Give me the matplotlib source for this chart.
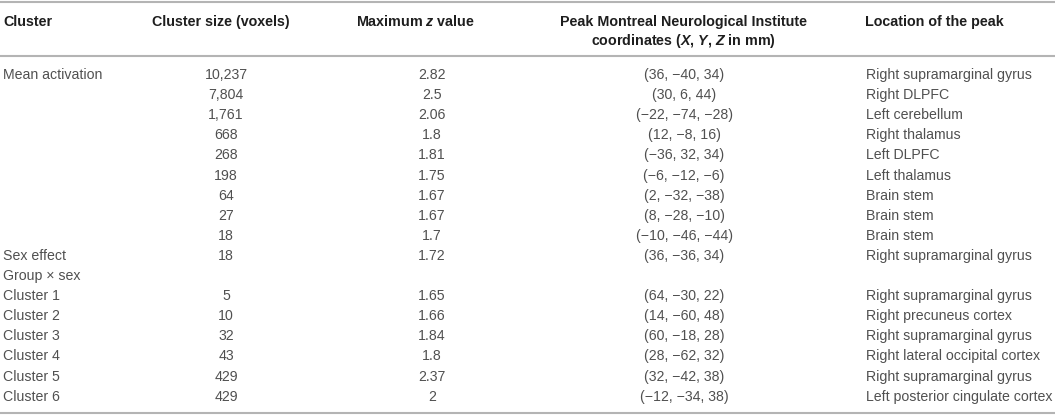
import matplotlib
matplotlib.use("Agg")
import matplotlib.pyplot as plt

plt.rcParams['font.family'] = ['Liberation Sans', 'DejaVu Sans']
plt.rcParams['mathtext.fontset'] = 'custom'
plt.rcParams['mathtext.rm'] = 'Liberation Sans'
plt.rcParams['mathtext.it'] = 'Liberation Sans:italic'
plt.rcParams['mathtext.bf'] = 'Liberation Sans:bold'
plt.rcParams['mathtext.bfit'] = 'Liberation Sans:italic:bold'

headers_line1 = ["Cluster", "Cluster size (voxels)", r"Maximum $\mathbfit{z}$ value",
                 "Peak Montreal Neurological Institute", "Location of the peak"]
headers_line2 = ["", "", "",
                 r"coordinates ($\mathbfit{X}$, $\mathbfit{Y}$, $\mathbfit{Z}$ in mm)", ""]

clusters = ["Mean activation", "", "", "", "", "", "", "", "",
            "Sex effect", "Group × sex", "Cluster 1", "Cluster 2", "Cluster 3",
            "Cluster 4", "Cluster 5", "Cluster 6"]
sizes = ["10,237", "7,804", "1,761", "668", "268", "198", "64", "27", "18",
         "18", "", "5", "10", "32", "43", "429", "429"]
zvals = ["2.82", "2.5", "2.06", "1.8", "1.81", "1.75", "1.67", "1.67", "1.7",
         "1.72", "", "1.65", "1.66", "1.84", "1.8", "2.37", "2"]
coords = ["(36, −40, 34)", "(30, 6, 44)", "(−22, −74, −28)", "(12, −8, 16)",
          "(−36, 32, 34)", "(−6, −12, −6)", "(2, −32, −38)", "(8, −28, −10)",
          "(−10, −46, −44)", "(36, −36, 34)", "", "(64, −30, 22)", "(14, −60, 48)",
          "(60, −18, 28)", "(28, −62, 32)", "(32, −42, 38)", "(−12, −34, 38)"]
locations = ["Right supramarginal gyrus", "Right DLPFC", "Left cerebellum",
             "Right thalamus", "Left DLPFC", "Left thalamus", "Brain stem",
             "Brain stem", "Brain stem", "Right supramarginal gyrus", "",
             "Right supramarginal gyrus", "Right precuneus cortex",
             "Right supramarginal gyrus", "Right lateral occipital cortex",
             "Right supramarginal gyrus", "Left posterior cingulate cortex"]

W, H = 1055, 415
fig = plt.figure(figsize=(W / 100, H / 100), dpi=100)
ax = fig.add_axes([0, 0, 1, 1])
ax.set_xlim(0, W)
ax.set_ylim(H, 0)
ax.axis('off')

line_c = '#b4b4b4'
head_c = '#1e1e1e'
body_c = '#505050'
fs_h = 10.3
fs_b = 10.2

for y in (2, 56, 412.5):
    ax.plot([0, W], [y, y], color=line_c, lw=1.5, solid_capstyle='butt')

hx = [3, 221, 415, 683, 865]
ha_h = ['left', 'center', 'center', 'center', 'left']
for x, t1, t2, ha in zip(hx, headers_line1, headers_line2, ha_h):
    ax.text(x, 26, t1, ha=ha, va='baseline', fontsize=fs_h, fontweight='bold',
            color=head_c)
    if t2:
        ax.text(x, 45, t2, ha=ha, va='baseline', fontsize=fs_h, fontweight='bold',
                color=head_c)

cx = [3, 226, 432, 684, 866]
ca = ['left', 'center', 'center', 'center', 'left']
y0, dy = 75, 20.1
for i in range(len(clusters)):
    y = y0 + i * dy
    for x, ha, col in zip(cx, ca, (clusters, sizes, zvals, coords, locations)):
        if col[i]:
            ax.text(x, y, col[i], ha=ha, va='center', fontsize=fs_b, color=body_c)

fig.savefig("out.png", dpi=100)
